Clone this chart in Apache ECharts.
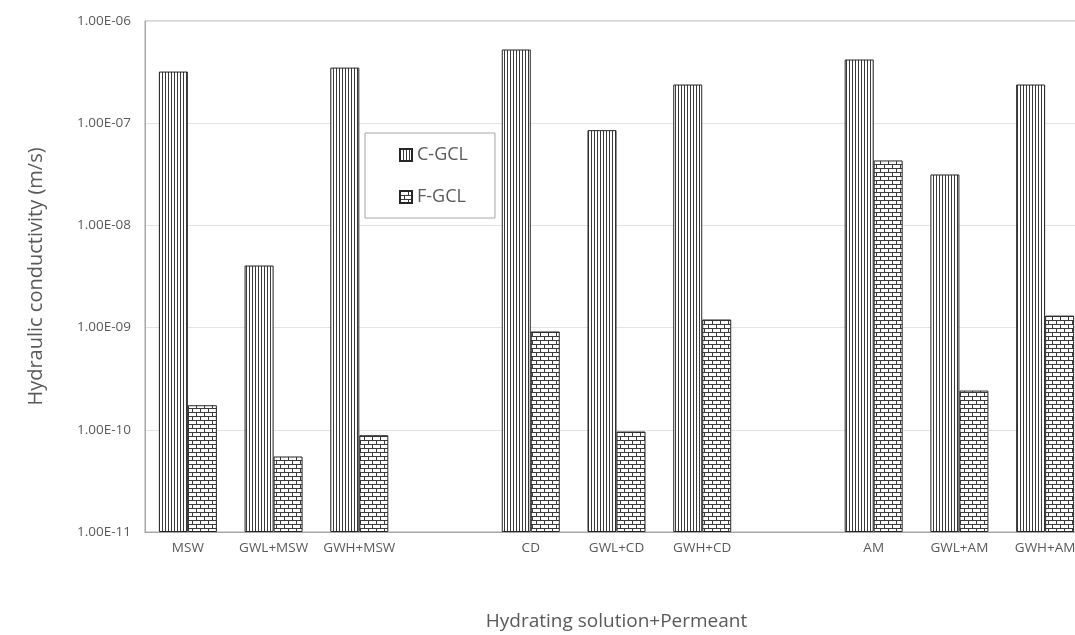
<!DOCTYPE html>
<html>
<head>
<meta charset="utf-8">
<title>Hydraulic conductivity of GCLs</title>
<script src="https://cdn.jsdelivr.net/npm/echarts@6/dist/echarts.min.js"></script>
<style>
  html, body { margin: 0; padding: 0; background: #ffffff; }
  #chart { width: 1075px; height: 635px; }
</style>
</head>
<body>
<div id="chart"></div>
<script>
// Hydrating solution + permeant combinations (empty slots separate the three permeant groups)
const categories = ['MSW', 'GWL+MSW', 'GWH+MSW', '', 'CD', 'GWL+CD', 'GWH+CD', '', 'AM', 'GWL+AM', 'GWH+AM'];

// Hydraulic conductivity, m/s
const cGcl = [3.2e-7, 4.05e-9, 3.5e-7, null, 5.26e-7, 8.55e-8, 2.39e-7, null, 4.2e-7, 3.15e-8, 2.39e-7];
const fGcl = [1.74e-10, 5.48e-11, 8.85e-11, null, 9.16e-10, 9.62e-11, 1.2e-9, null, 4.32e-8, 2.42e-10, 1.31e-9];

const seriesNames = ['C-GCL', 'F-GCL'];
const yMin = 1e-11;
const yMax = 1e-6;

// Hatch fills drawn on small canvases and tiled inside the bars
function stripePattern() {
  const c = document.createElement('canvas');
  c.width = 3; c.height = 4;
  const g = c.getContext('2d');
  g.fillStyle = '#ffffff';
  g.fillRect(0, 0, 3, 4);
  g.fillStyle = '#3a3a3a';
  g.fillRect(0, 0, 1, 4);
  return c;
}
function brickPattern() {
  const c = document.createElement('canvas');
  c.width = 8; c.height = 8;
  const g = c.getContext('2d');
  g.fillStyle = '#ffffff';
  g.fillRect(0, 0, 8, 8);
  g.fillStyle = '#3a3a3a';
  g.fillRect(0, 0, 8, 1);
  g.fillRect(0, 4, 8, 1);
  g.fillRect(0, 0, 1, 4);
  g.fillRect(4, 4, 1, 4);
  return c;
}

function sci(v) {
  const parts = Number(v).toExponential(2).split('e');
  const exp = parseInt(parts[1], 10);
  const sign = exp < 0 ? '-' : '+';
  const abs = Math.abs(exp);
  return parts[0] + 'E' + sign + (abs < 10 ? '0' + abs : String(abs));
}

const chart = echarts.init(document.getElementById('chart'), null, { renderer: 'canvas' });
const textColor = '#595959';
const fontFamily = '"Open Sans", "Noto Sans", sans-serif';

chart.setOption({
  animation: false,
  backgroundColor: '#ffffff',
  textStyle: { fontFamily: fontFamily },
  grid: {
    left: 145, top: 21, right: -13, bottom: 103,
    outerBoundsMode: 'none',
    show: true, borderColor: '#a6a6a6', borderWidth: 1,
    containLabel: false
  },
  legend: {
    orient: 'vertical',
    left: 365, top: 133,
    padding: [13, 27, 12, 34],
    itemGap: 24,
    itemWidth: 12, itemHeight: 12,
    icon: 'rect',
    borderColor: '#a6a6a6', borderWidth: 1,
    backgroundColor: '#ffffff',
    textStyle: { fontSize: 18, color: textColor, fontFamily: fontFamily },
    data: seriesNames
  },
  xAxis: {
    type: 'category',
    data: categories,
    name: 'Hydrating solution+Permeant',
    nameLocation: 'middle',
    nameGap: 80,
    nameTextStyle: { fontSize: 19, color: textColor },
    axisLine: { show: true, lineStyle: { color: '#a6a6a6' } },
    axisTick: { show: false },
    axisLabel: { color: textColor, fontSize: 13.5, margin: 9, interval: 0 },
    splitLine: { show: false }
  },
  yAxis: {
    type: 'log',
    logBase: 10,
    min: yMin,
    max: yMax,
    startValue: yMin,
    name: 'Hydraulic conductivity (m/s)',
    nameLocation: 'middle',
    nameRotate: 90,
    nameGap: 99,
    nameTextStyle: { fontSize: 20, color: textColor },
    axisLine: { show: true, lineStyle: { color: '#a6a6a6' } },
    axisTick: { show: false },
    axisLabel: { color: textColor, fontSize: 13.5, margin: 14, formatter: sci },
    splitLine: { show: true, lineStyle: { color: '#e3e3e3', width: 1 } },
    minorTick: { show: false }
  },
  series: [
    {
      name: seriesNames[0],
      type: 'bar',
      data: cGcl,
      barWidth: 29,
      barGap: '0%',
      itemStyle: {
        color: { image: stripePattern(), repeat: 'repeat' },
        borderColor: '#262626', borderWidth: 1
      }
    },
    {
      name: seriesNames[1],
      type: 'bar',
      data: fGcl,
      barWidth: 29,
      barGap: '0%',
      itemStyle: {
        color: { image: brickPattern(), repeat: 'repeat' },
        borderColor: '#262626', borderWidth: 1
      }
    }
  ]
});
</script>
</body>
</html>
